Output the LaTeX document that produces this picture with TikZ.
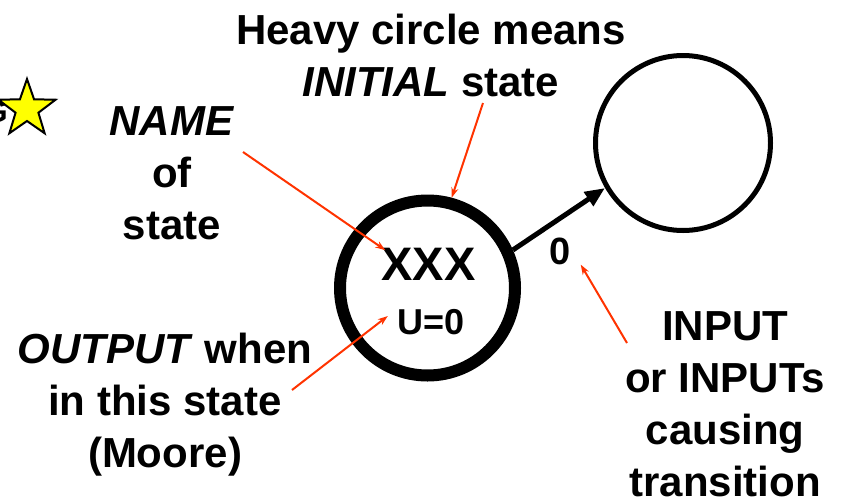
\documentclass[tikz,border=0pt]{standalone}
\usepackage{fontspec}
\setmainfont{Liberation Sans}
\usetikzlibrary{arrows.meta,positioning,shapes.geometric}
\definecolor{ink}{HTML}{000000}
\definecolor{note}{HTML}{FF3300}
\definecolor{starfill}{HTML}{FFFF00}

\begin{document}
\begin{tikzpicture}[
    x=1pt, y=-1pt,
    every node/.style={font=\fontsize{42}{52}\selectfont\bfseries, text=ink, inner sep=0pt},
    lbl/.style={align=center},
    state/.style={circle, draw=ink, minimum size=175pt},
    pointer/.style={-{Stealth[length=10pt, width=7pt]}, draw=note, line width=2pt},
]
\useasboundingbox (0,0) rectangle (841,496);

% Star at the top left
\node[anchor=base east, font=\fontsize{32}{38}\selectfont\bfseries] (frag) at (8,122) {G};
\node[star, star points=5, star point ratio=2.5, minimum size=60pt,
    fill=starfill, draw=ink, line width=2pt] (mark) at (27,109) {};

% States
\node[state, line width=12pt] (init) at (427.5,288) {};
\node[state, line width=5pt] (next) at (683,143) {};
\node[font=\fontsize{47}{52}\selectfont\bfseries] (name) at (428.5,264.5) {XXX};
\node[font=\fontsize{36}{40}\selectfont\bfseries] (out) at (431.5,322) {U=0};

% Transition
\draw[-{Triangle[length=20pt, width=16pt]}, line width=5pt, ink] (init.24) -- (next.210);
\node[font=\fontsize{38}{40}\selectfont\bfseries] (inp) at (560,251) {0};

% Notes
\node[lbl] (initnote) at (431,55) {Heavy circle means\\\textit{INITIAL} state};
\node[lbl] (namenote) at (172,173) {\textit{NAME}\\of\\state};
\node[lbl] (outnote) at (165,405) {\textit{OUTPUT} when\\in this state\\(Moore)};
\node[lbl] (inpnote) at (725,404) {INPUT\\or INPUTs\\causing\\transition};

\coordinate (initfrom) at (483,103);
\coordinate (namefrom) at (243,152);
\coordinate (outfrom) at (292,390);
\coordinate (inpfrom) at (627,343);

\draw[pointer] (initfrom) -- (init.75);
\draw[pointer] (namefrom) -- ([xshift=4pt, yshift=-2pt]name.north west);
\draw[pointer] (outfrom) -- ([xshift=-10pt, yshift=6pt]out.west);
\draw[pointer] (inpfrom) -- ([xshift=10pt]inp.south east);

\end{tikzpicture}
\end{document}
